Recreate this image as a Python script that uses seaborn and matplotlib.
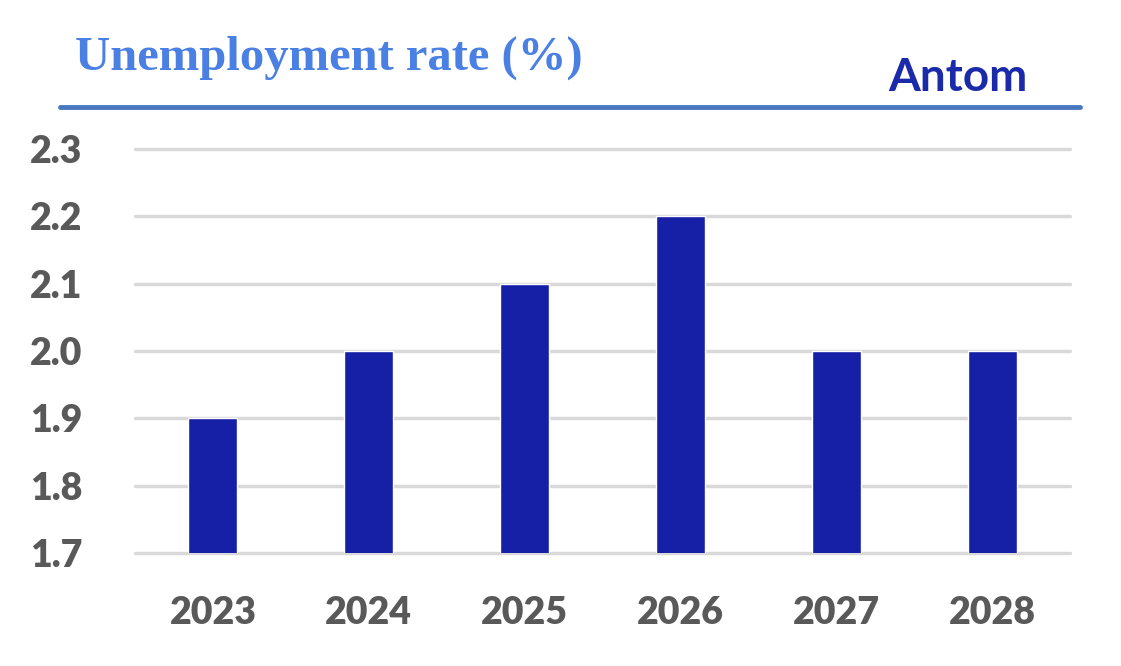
import matplotlib
matplotlib.use("Agg")
import matplotlib.pyplot as plt
import seaborn as sns
import pandas as pd

# data
years = ["2023", "2024", "2025", "2026", "2027", "2028"]
rates = [1.9, 2.0, 2.1, 2.2, 2.0, 2.0]
y_ticks = [1.7, 1.8, 1.9, 2.0, 2.1, 2.2, 2.3]

df = pd.DataFrame({"year": years, "rate": rates})

sns.set_style("white")
plt.rcParams["font.family"] = ["Lato", "DejaVu Sans"]

fig = plt.figure(figsize=(11.21, 6.66), dpi=100)
# axes box in figure pixels: x 135..1070, y 149..553
ax = fig.add_axes([135 / 1121, 1 - 553 / 666, 935 / 1121, 404 / 666])

sns.barplot(data=df, x="year", y="rate", color="#1520a6", width=0.315,
            saturation=1, ax=ax, zorder=3)

ax.set_ylim(1.7, 2.3)
ax.set_xlim(-0.5, 5.5)
ax.set_yticks(y_ticks)
ax.set_yticklabels([f"{v:.1f}" for v in y_ticks])
for v in y_ticks:
    ax.axhline(v, color="#d9d9d9", lw=2.5, zorder=1, clip_on=False)

ax.set_xlabel("")
ax.set_ylabel("")
for s in ax.spines.values():
    s.set_visible(False)
ax.tick_params(axis="both", length=0, labelsize=27, labelcolor="#595959")
ax.tick_params(axis="y", pad=38)
ax.tick_params(axis="x", pad=31)
for lab in ax.get_xticklabels() + ax.get_yticklabels():
    lab.set_fontweight("heavy")

# header
fig.text(75 / 1121, 1 - 70 / 666, "Unemployment rate (%)", family="Liberation Serif",
         fontweight="bold", fontsize=35, color="#4a7fe3", ha="left", va="baseline")
fig.text(888 / 1121, 1 - 91 / 666, "Antom", family=["Lato", "DejaVu Sans"],
         fontweight="bold", fontsize=33, color="#1a2aa8", ha="left", va="baseline")
fig.add_artist(plt.Line2D([60 / 1121, 1080 / 1121], [1 - 107 / 666, 1 - 107 / 666],
                          color="#4a78c0", lw=3.5, transform=fig.transFigure))

fig.savefig("out.png", dpi=100)
